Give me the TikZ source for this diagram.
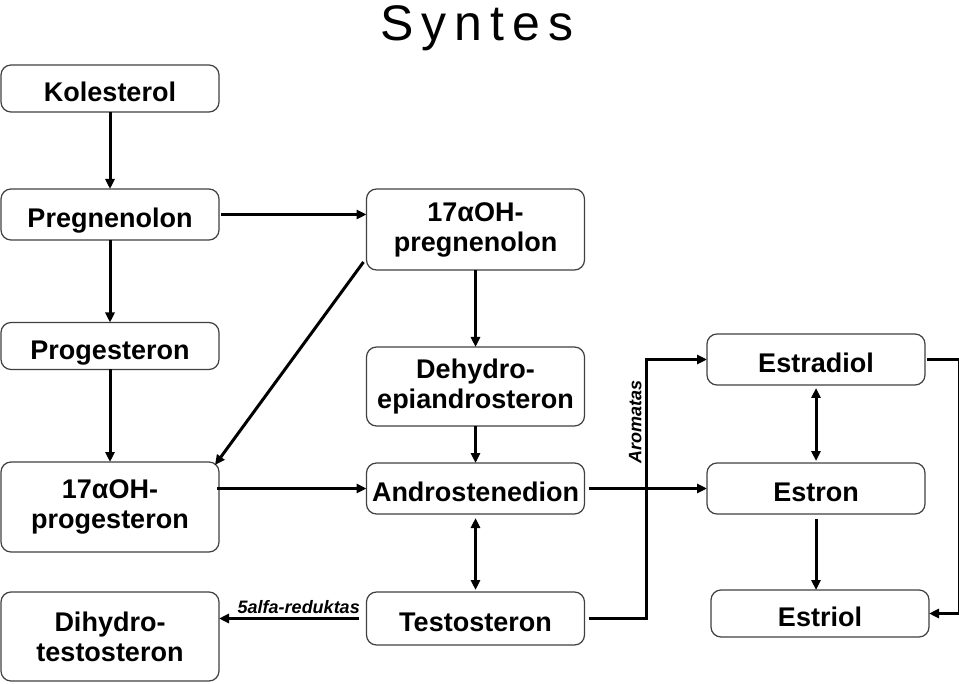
\documentclass[tikz,border=0pt]{standalone}
\usepackage{fontspec}
\setmainfont{Liberation Sans}
\usetikzlibrary{arrows.meta}
\definecolor{SynInk}{gray}{0.0}
\definecolor{SynFrame}{gray}{0.25}
\tikzset{
    syn/diagram/.style={
        x=0.5pt, y=-0.5pt,
        line cap=butt,
        line join=miter,
        every node/.style={inner sep=1pt, outer sep=0pt}
    },
    syn/box/.style={
        draw=SynFrame, fill=white, line width=0.6pt,
        rounded corners=5pt, align=center,
        minimum width=109pt, minimum height=25.5pt,
        font=\fontsize{13.5}{15}\selectfont\bfseries
    },
    syn/one/.style={syn/box, text height=13pt, text depth=0pt},
    syn/tall/.style={syn/box, minimum height=40.5pt},
    syn/step/.style={
        draw=SynInk, line width=1.5pt,
        -{Triangle[length=5pt, width=4.5pt]}
    },
    syn/both/.style={
        draw=SynInk, line width=1.5pt,
        {Triangle[length=5pt, width=4.5pt]}-{Triangle[length=5pt, width=4.5pt]}
    },
    syn/enzyme/.style={font=\fontsize{9}{10}\selectfont\bfseries\itshape, inner sep=1.5pt}
}
\begin{document}
\begin{tikzpicture}[syn/diagram]
    \useasboundingbox (0,0) rectangle (959,684);
    \node[font=\fontsize{25}{28}\selectfont\addfontfeature{LetterSpace=16}]
        (title) at (477,28) {Syntes};
    % left column
    \node[syn/one, minimum height=23.5pt] (kol) at (110,88.5) {Kolesterol};
    \node[syn/one] (preg) at (110,214.5) {Pregnenolon};
    \node[syn/one, minimum height=23.5pt] (prog) at (110,346) {Progesteron};
    \node[syn/tall, minimum height=45pt] (ohprog) at (110,507) {17αOH-\\progesteron};
    \node[syn/tall, minimum height=44.5pt] (dht) at (110,636.5) {Dihydro-\\testosteron};
    % middle column
    \node[syn/tall] (ohpreg) at (475.5,229.5) {17αOH-\\pregnenolon};
    \node[syn/tall, minimum height=39.5pt] (dhea) at (475.5,386.5) {Dehydro-\\epiandrosteron};
    \node[syn/one] (andro) at (475.5,488.5) {Androstenedion};
    \node[syn/one, minimum height=26.5pt] (testo) at (475.5,618.5) {Testosteron};
    % right column
    \node[syn/one] (e2) at (816,359.5) {Estradiol};
    \node[syn/one] (e1) at (816,488.5) {Estron};
    \node[syn/one, minimum height=23.5pt] (e3) at (820,613.5) {Estriol};
    % connectors
    \draw[syn/step] (kol) -- (preg);
    \draw[syn/step] (preg) -- (prog);
    \draw[syn/step] (prog) -- (ohprog);
    \draw[syn/step] ([xshift=1pt]preg.east) -- (preg.east -| ohpreg.west);
    \draw[syn/step] ([shift={(-3,-8)}]ohpreg.south west) -- ([shift={(-4,3)}]ohprog.north east);
    \draw[syn/step] (ohpreg) -- (dhea);
    \draw[syn/step] (dhea) -- (andro);
    \draw[syn/step] ([xshift=-1pt]ohprog.east |- andro) -- (andro);
    \draw[syn/both, shorten <=2pt, shorten >=1pt] (andro) -- (testo);
    \draw[syn/step] ([xshift=-4pt]testo.west) -- (dht.east |- testo)
        node[syn/enzyme, midway, above=1pt, xshift=5pt] (red) {5alfa-reduktas};
    \draw[syn/step] ([xshift=2pt]andro.east) -- (e1);
    \draw[syn/step] ([xshift=2pt]testo.east) -- ++(58,0) |- (e2)
        node[syn/enzyme, pos=0.38, rotate=90, anchor=south, yshift=1pt] (arom) {Aromatas};
    \draw[syn/both, shorten <=1.5pt, shorten >=1pt] (e2) -- (e1);
    \draw[syn/step, shorten <=2.5pt] (e1.south) -- (e1.south |- e3.north);
    \draw[syn/step] ([xshift=1pt]e2.east) -- ++(32,0) |- (e3);
\end{tikzpicture}
\end{document}
